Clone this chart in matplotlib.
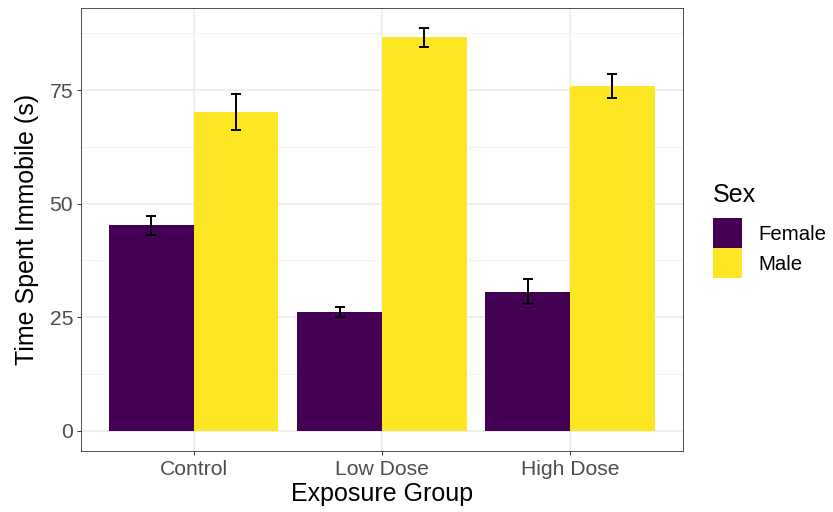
import matplotlib
matplotlib.use("Agg")
import matplotlib.pyplot as plt
from matplotlib.patches import Patch
from matplotlib.ticker import MultipleLocator
import numpy as np

plt.rcParams["font.family"] = ["Liberation Sans", "DejaVu Sans"]

groups = ["Control", "Low Dose", "High Dose"]
sexes = ["Female", "Male"]
female_mean = [45.2, 26.1, 30.6]
female_se = [2.05, 1.15, 2.7]
male_mean = [70.2, 86.6, 75.9]
male_se = [4.0, 2.05, 2.65]

colors = {"Female": "#440154", "Male": "#FDE725"}
grid_col = "#EBEBEB"
border_col = "#333333"
title_size = 18
text_size = 15.2

fig = plt.figure(figsize=(8.33, 5.12), dpi=100)
ax = fig.add_axes([80.7 / 833, 1 - 450.7 / 512, (683 - 80.7) / 833, (450.7 - 8) / 512])

x = np.arange(len(groups)) + 1
bw = 0.45
means = {"Female": female_mean, "Male": male_mean}
errs = {"Female": female_se, "Male": male_se}
offsets = {"Female": -bw / 2, "Male": bw / 2}

for sex in sexes:
    xpos = x + offsets[sex]
    ax.bar(xpos, means[sex], width=bw, color=colors[sex], zorder=3)
    ax.errorbar(xpos, means[sex], yerr=errs[sex], fmt="none", ecolor="black",
                elinewidth=1.4, capsize=3.9, capthick=1.4, zorder=4)

# ggplot-style limits: 5% expansion on y, 0.6 units on discrete x
top = max(np.array(male_mean) + np.array(male_se))
ax.set_ylim(-0.05 * top, 1.05 * top)
ax.set_xlim(0.4, len(groups) + 0.6)

ax.yaxis.set_major_locator(MultipleLocator(25))
ax.yaxis.set_minor_locator(MultipleLocator(12.5))
ax.set_xticks(x)
ax.set_xticklabels(groups)

ax.grid(True, which="major", color=grid_col, linewidth=1.1, zorder=0)
ax.grid(True, which="minor", axis="y", color="#F2F2F2", linewidth=0.8, zorder=0)
ax.set_axisbelow(True)

for sp in ax.spines.values():
    sp.set_color(border_col)
    sp.set_linewidth(0.6)

ax.tick_params(which="major", length=3, width=0.7, color=border_col,
               labelsize=text_size, labelcolor="#4D4D4D", pad=2.5)
ax.tick_params(axis="x", pad=3.5)
ax.tick_params(which="minor", length=0)

ax.set_xlabel("Exposure Group", fontsize=title_size, va="baseline")
ax.xaxis.set_label_coords(0.5, (450.7 - 500.7) / 442.7)
ax.set_ylabel("Time Spent Immobile (s)", fontsize=title_size, va="center")
ax.yaxis.set_label_coords((27 - 80.7) / 602.3, 0.5)

# legend: title placed separately so the gap above the keys can be set
fig.text(713 / 833, 1 - 201.7 / 512, "Sex", fontsize=title_size, ha="left", va="baseline")
handles = [Patch(facecolor=colors[s], edgecolor="none", label=s) for s in sexes]
fig.legend(handles=handles, loc="upper left", bbox_to_anchor=(713.3 / 833, 1 - 218.3 / 512),
           frameon=False, fontsize=14.7, borderpad=0, borderaxespad=0,
           labelspacing=0, handlelength=1.42, handleheight=1.885, handletextpad=0.8)

fig.savefig("out.png", dpi=100)
